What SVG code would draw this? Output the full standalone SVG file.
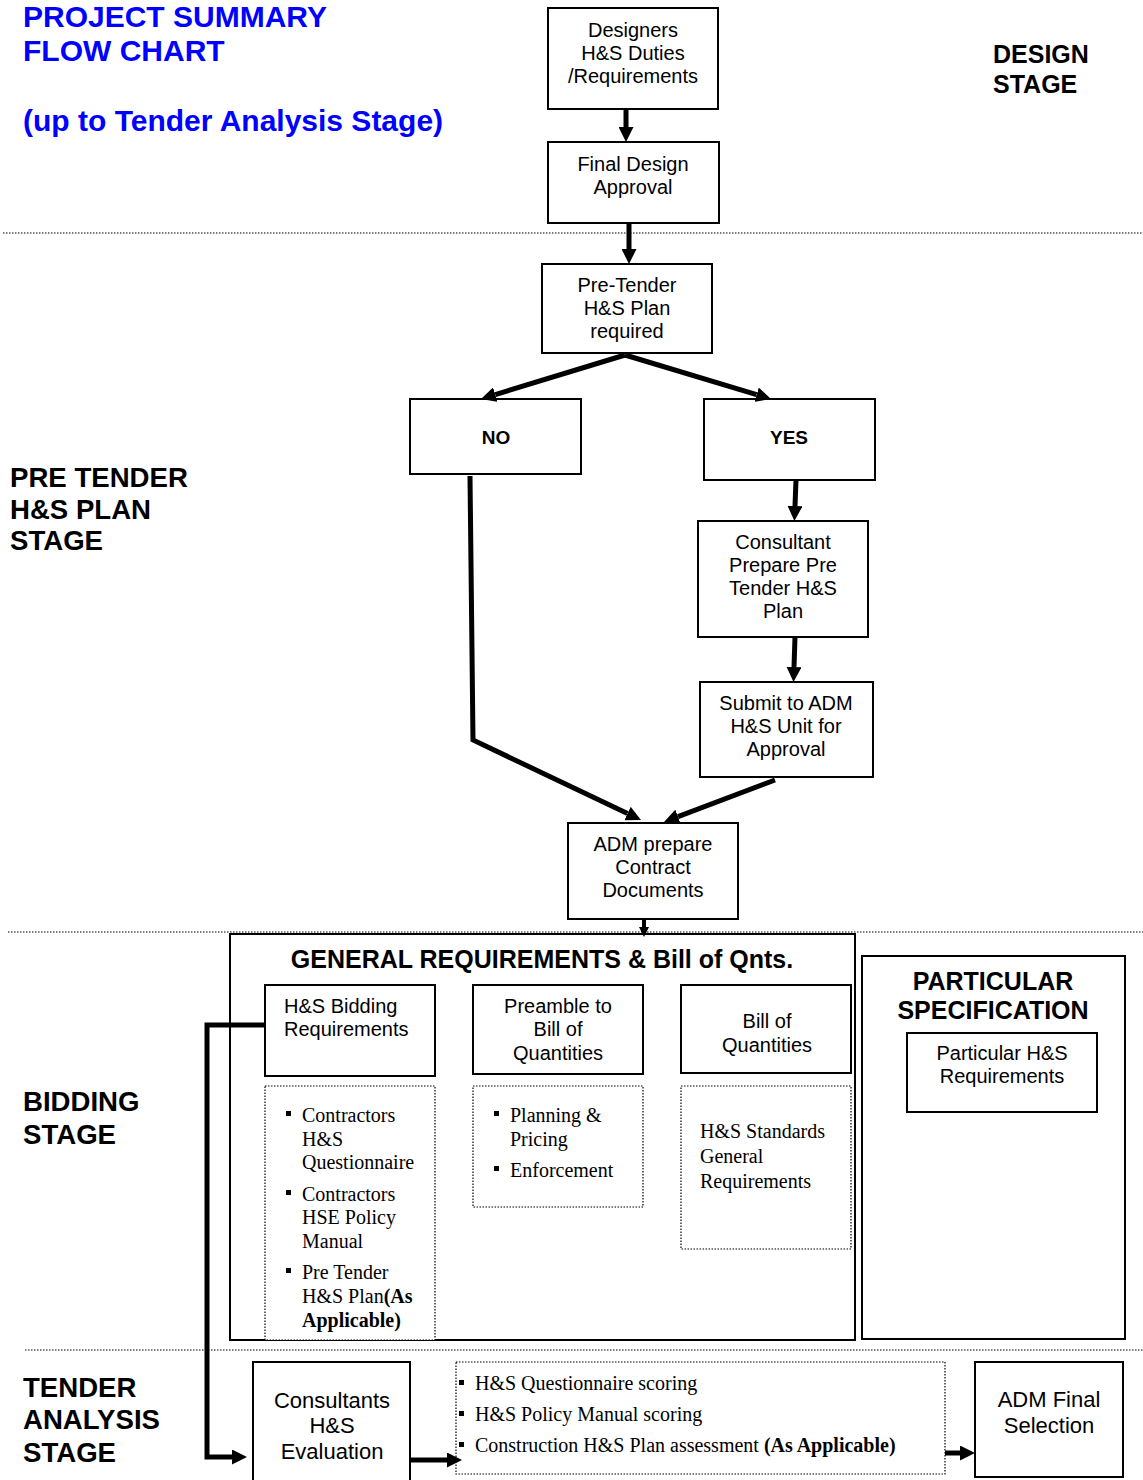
<svg xmlns="http://www.w3.org/2000/svg" width="1143" height="1480" viewBox="0 0 1143 1480">
<style>
.bx{fill:#fff;stroke:#000;stroke-width:2}
.dbx{fill:#fff;stroke:#000;stroke-width:1.2;stroke-dasharray:1.5 1.5}
.sep{stroke:#000;stroke-width:1.2;stroke-dasharray:1.5 1.5;fill:none}
.t{font-family:"Liberation Sans",Arial,sans-serif;font-size:20px;fill:#000}
.c{text-anchor:middle}
.tl{font-family:"Liberation Sans",Arial,sans-serif;font-size:22px;fill:#000;text-anchor:middle}
.s{font-family:"Liberation Serif","Times New Roman",serif;font-size:20px;fill:#000}
.h{font-family:"Liberation Sans",Arial,sans-serif;font-weight:bold;fill:#000}
.blue{font-family:"Liberation Sans",Arial,sans-serif;font-weight:bold;font-size:30px;fill:#0000FF}
.ln{fill:none;stroke:#000;stroke-width:5;marker-end:url(#arr)}
.lnS{fill:none;stroke:#000;stroke-width:4;marker-end:url(#arrS)}
</style>
<defs>
<marker id="arr" markerUnits="userSpaceOnUse" viewBox="0 -7.5 15 15" refX="0" refY="0" markerWidth="15" markerHeight="15" orient="auto"><path d="M0,-7.5 L15,0 L0,7.5 z" fill="#000"/></marker>
<marker id="arrS" markerUnits="userSpaceOnUse" viewBox="0 -5 10 10" refX="0" refY="0" markerWidth="10" markerHeight="10" orient="auto"><path d="M0,-5 L10,0 L0,5 z" fill="#000"/></marker>
</defs>
<rect width="1143" height="1480" fill="#fff"/>

<g id="title">
<text class="blue" x="23" y="27">PROJECT SUMMARY</text>
<text class="blue" x="23" y="61">FLOW CHART</text>
<text class="blue" x="23" y="131">(up to Tender Analysis Stage)</text>
</g>

<g id="stage-labels">
<text class="h" font-size="25" x="993" y="63">DESIGN</text>
<text class="h" font-size="25" x="993" y="93">STAGE</text>
<text class="h" font-size="27.6" x="10" y="487">PRE TENDER</text>
<text class="h" font-size="27.6" x="10" y="519">H&amp;S PLAN</text>
<text class="h" font-size="27.6" x="10" y="550">STAGE</text>
<text class="h" font-size="27.6" x="23" y="1111">BIDDING</text>
<text class="h" font-size="27.6" x="23" y="1144">STAGE</text>
<text class="h" font-size="27.6" x="23" y="1397">TENDER</text>
<text class="h" font-size="27.6" x="23" y="1429">ANALYSIS</text>
<text class="h" font-size="27.6" x="23" y="1462">STAGE</text>
</g>

<g id="separators">
<line class="sep" x1="3" y1="233" x2="1143" y2="233"/>
<line class="sep" x1="8" y1="932" x2="1143" y2="932"/>
<line class="sep" x1="25" y1="1350" x2="1143" y2="1350"/>
</g>

<g id="n-designers">
<rect class="bx" x="548" y="8" width="170" height="101"/>
<text class="t c" x="633" y="37">Designers</text>
<text class="t c" x="633" y="60">H&amp;S Duties</text>
<text class="t c" x="633" y="83">/Requirements</text>
</g>
<g id="n-final-design">
<rect class="bx" x="548" y="142" width="171" height="81"/>
<text class="t c" x="633" y="171">Final Design</text>
<text class="t c" x="633" y="194">Approval</text>
</g>
<g id="n-pretender">
<rect class="bx" x="542" y="264" width="170" height="89"/>
<text class="t c" x="627" y="292">Pre-Tender</text>
<text class="t c" x="627" y="315">H&amp;S Plan</text>
<text class="t c" x="627" y="338">required</text>
</g>
<g id="n-no">
<rect class="bx" x="410" y="399" width="171" height="75"/>
<text class="h" font-size="19" x="496" y="444" text-anchor="middle">NO</text>
</g>
<g id="n-yes">
<rect class="bx" x="704" y="399" width="171" height="81"/>
<text class="h" font-size="19" x="789" y="444" text-anchor="middle">YES</text>
</g>
<g id="n-consultant">
<rect class="bx" x="698" y="521" width="170" height="116"/>
<text class="t c" x="783" y="549">Consultant</text>
<text class="t c" x="783" y="572">Prepare Pre</text>
<text class="t c" x="783" y="595">Tender H&amp;S</text>
<text class="t c" x="783" y="618">Plan</text>
</g>
<g id="n-submit">
<rect class="bx" x="700" y="682" width="173" height="95"/>
<text class="t c" x="786" y="710">Submit to ADM</text>
<text class="t c" x="786" y="733">H&amp;S Unit for</text>
<text class="t c" x="786" y="756">Approval</text>
</g>
<g id="n-adm-prepare">
<rect class="bx" x="568" y="823" width="170" height="96"/>
<text class="t c" x="653" y="851">ADM prepare</text>
<text class="t c" x="653" y="874">Contract</text>
<text class="t c" x="653" y="897">Documents</text>
</g>

<g id="n-general">
<rect class="bx" x="230" y="934" width="625" height="406"/>
<text class="h" font-size="25" x="542" y="968" text-anchor="middle">GENERAL REQUIREMENTS &amp; Bill of Qnts.</text>
</g>
<g id="n-bidding-req">
<rect class="bx" x="265" y="985" width="170" height="91"/>
<text class="t" x="284" y="1013">H&amp;S Bidding</text>
<text class="t" x="284" y="1036">Requirements</text>
</g>
<g id="n-preamble">
<rect class="bx" x="473" y="985" width="170" height="89"/>
<text class="t c" x="558" y="1013">Preamble to</text>
<text class="t c" x="558" y="1036">Bill of</text>
<text class="t c" x="558" y="1060">Quantities</text>
</g>
<g id="n-boq">
<rect class="bx" x="681" y="985" width="170" height="88"/>
<text class="t c" x="767" y="1028">Bill of</text>
<text class="t c" x="767" y="1052">Quantities</text>
</g>
<g id="n-bidding-list">
<rect class="dbx" x="265" y="1086" width="170" height="254"/>
<rect x="286" y="1111" width="5" height="5"/>
<rect x="286" y="1190" width="5" height="5"/>
<rect x="286" y="1268" width="5" height="5"/>
<text class="s" x="302" y="1122">Contractors</text>
<text class="s" x="302" y="1146">H&amp;S</text>
<text class="s" x="302" y="1169">Questionnaire</text>
<text class="s" x="302" y="1201">Contractors</text>
<text class="s" x="302" y="1224">HSE Policy</text>
<text class="s" x="302" y="1248">Manual</text>
<text class="s" x="302" y="1279">Pre Tender</text>
<text class="s" x="302" y="1303">H&amp;S Plan<tspan font-weight="bold">(As</tspan></text>
<text class="s" x="302" y="1327" font-weight="bold">Applicable)</text>
</g>
<g id="n-preamble-list">
<rect class="dbx" x="473" y="1086" width="170" height="121"/>
<rect x="494" y="1111" width="5" height="5"/>
<rect x="494" y="1166" width="5" height="5"/>
<text class="s" x="510" y="1122">Planning &amp;</text>
<text class="s" x="510" y="1146">Pricing</text>
<text class="s" x="510" y="1177">Enforcement</text>
</g>
<g id="n-boq-list">
<rect class="dbx" x="681" y="1086" width="170" height="163"/>
<text class="s" x="700" y="1138">H&amp;S Standards</text>
<text class="s" x="700" y="1163">General</text>
<text class="s" x="700" y="1188">Requirements</text>
</g>
<g id="n-particular">
<rect class="bx" x="862" y="956" width="263" height="383"/>
<text class="h" font-size="25" x="993" y="990" text-anchor="middle">PARTICULAR</text>
<text class="h" font-size="25" x="993" y="1019" text-anchor="middle">SPECIFICATION</text>
</g>
<g id="n-particular-hs">
<rect class="bx" x="907" y="1033" width="190" height="79"/>
<text class="t c" x="1002" y="1060">Particular H&amp;S</text>
<text class="t c" x="1002" y="1083">Requirements</text>
</g>

<g id="n-consultants-eval">
<rect class="bx" x="253" y="1362" width="157" height="125"/>
<text class="tl" x="332" y="1408">Consultants</text>
<text class="tl" x="332" y="1433">H&amp;S</text>
<text class="tl" x="332" y="1459">Evaluation</text>
</g>
<g id="n-scoring">
<rect class="dbx" x="456" y="1362" width="489" height="112"/>
<rect x="459" y="1380" width="5" height="5"/>
<rect x="459" y="1411" width="5" height="5"/>
<rect x="459" y="1442" width="5" height="5"/>
<text class="s" x="475" y="1390">H&amp;S Questionnaire scoring</text>
<text class="s" x="475" y="1421">H&amp;S Policy Manual scoring</text>
<text class="s" x="475" y="1452">Construction H&amp;S Plan assessment <tspan font-weight="bold">(As Applicable)</tspan></text>
</g>
<g id="n-adm-final">
<rect class="bx" x="975" y="1362" width="148" height="115"/>
<text class="tl" x="1049" y="1407">ADM Final</text>
<text class="tl" x="1049" y="1433">Selection</text>
</g>

<g id="connectors">
<path class="ln" d="M626,109 L626,127"/>
<path class="ln" d="M629,223 L629,249"/>
<path class="ln" d="M625,355 L495.3,394.6"/>
<path class="ln" d="M625,355 L756.6,394.7"/>
<path class="ln" d="M796,480 L795,506"/>
<path class="ln" d="M795,637 L794,667"/>
<path class="ln" d="M470,476 L473,740 L627.5,813.6"/>
<path class="ln" d="M775,780 L678,816.7"/>
<path class="lnS" d="M644,919 L644,927"/>
<path class="ln" d="M265,1025 L207,1025 L207,1457 L232,1457"/>
<path class="ln" d="M410,1460 L447,1460"/>
<path class="ln" d="M945,1453 L960,1453"/>
</g>
</svg>
